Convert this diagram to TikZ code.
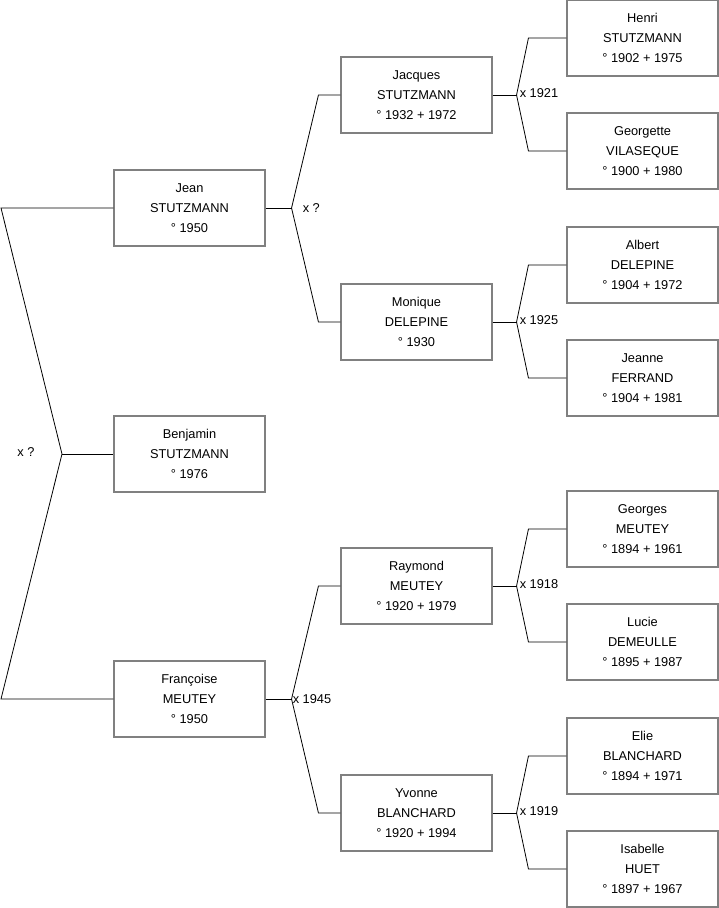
\documentclass[tikz,border=0pt]{standalone}
\usepackage{fontspec}
\setmainfont{Liberation Sans}
\usetikzlibrary{calc}

\begin{document}
\begin{tikzpicture}[
    x=1pt, y=-1pt,
    every node/.style={font=\fontsize{12.8}{20}\selectfont, align=center},
    person/.style={rectangle, draw=black!50, line width=1.1pt, fill=white,
        minimum width=151pt, minimum height=76pt, inner sep=0pt},
    link/.style={draw, line width=0.8pt},
    union/.style={font=\fontsize{12.8}{14}\selectfont, anchor=west, inner sep=1pt}
]
\useasboundingbox (0,0) rectangle (719,908);
% Generazione 1
\node[person] (jean)      at (189.5,208) {Jean\\STUTZMANN\\° 1950};
\node[person] (benjamin)  at (189.5,454) {Benjamin\\STUTZMANN\\° 1976};
\node[person] (francoise) at (189.5,699) {Françoise\\MEUTEY\\° 1950};
% Generazione 2
\node[person] (jacques) at (416.5,95)  {Jacques\\STUTZMANN\\° 1932 + 1972};
\node[person] (monique) at (416.5,322) {Monique\\DELEPINE\\° 1930};
\node[person] (raymond) at (416.5,586) {Raymond\\MEUTEY\\° 1920 + 1979};
\node[person] (yvonne)  at (416.5,813) {Yvonne\\BLANCHARD\\° 1920 + 1994};
% Generazione 3
\node[person] (henri)     at (642.5,38)  {Henri\\STUTZMANN\\° 1902 + 1975};
\node[person] (georgette) at (642.5,151) {Georgette\\VILASEQUE\\° 1900 + 1980};
\node[person] (albert)    at (642.5,265) {Albert\\DELEPINE\\° 1904 + 1972};
\node[person] (jeanne)    at (642.5,378) {Jeanne\\FERRAND\\° 1904 + 1981};
\node[person] (georges)   at (642.5,529) {Georges\\MEUTEY\\° 1894 + 1961};
\node[person] (lucie)     at (642.5,642) {Lucie\\DEMEULLE\\° 1895 + 1987};
\node[person] (elie)      at (642.5,756) {Elie\\BLANCHARD\\° 1894 + 1971};
\node[person] (isabelle)  at (642.5,869) {Isabelle\\HUET\\° 1897 + 1967};

% Unione dei genitori di Benjamin
\coordinate (jeanL) at (1,208);
\coordinate (francoiseL) at (1,699);
\coordinate (benjaminJ) at (62,454);
\draw[link] (jean.west) -- (jeanL) -- (benjaminJ) -- (francoiseL) -- (francoise.west);
\draw[link] (benjaminJ) -- (benjamin.west);
\node[union, anchor=center] (u0) at (26,452) {x ?};

% Genitori di Jean
\coordinate (jeanJ) at ($(jean.east)+(26,0)$);
\draw[link] (jean.east) -- (jeanJ);
\draw[link] (jacques.west) -- ++(-22,0) -- (jeanJ) -- ($(monique.west)+(-22,0)$) -- (monique.west);
\node[union] (u1) at ($(jeanJ)+(10,0)$) {x ?};

% Genitori di Francoise
\coordinate (francoiseJ) at ($(francoise.east)+(26,0)$);
\draw[link] (francoise.east) -- (francoiseJ);
\draw[link] (raymond.west) -- ++(-22,0) -- (francoiseJ) -- ($(yvonne.west)+(-22,0)$) -- (yvonne.west);
\node[union] (u2) at (francoiseJ) {x 1945};

% Genitori di Jacques
\coordinate (jacquesJ) at ($(jacques.east)+(24,0)$);
\draw[link] (jacques.east) -- (jacquesJ);
\draw[link] (henri.west) -- ++(-38,0) -- (jacquesJ) -- ($(georgette.west)+(-38,0)$) -- (georgette.west);
\node[union] (u3) at ($(jacquesJ)+(2,-2)$) {x 1921};

% Genitori di Monique
\coordinate (moniqueJ) at ($(monique.east)+(24,0)$);
\draw[link] (monique.east) -- (moniqueJ);
\draw[link] (albert.west) -- ++(-38,0) -- (moniqueJ) -- ($(jeanne.west)+(-38,0)$) -- (jeanne.west);
\node[union] (u4) at ($(moniqueJ)+(2,-2)$) {x 1925};

% Genitori di Raymond
\coordinate (raymondJ) at ($(raymond.east)+(24,0)$);
\draw[link] (raymond.east) -- (raymondJ);
\draw[link] (georges.west) -- ++(-38,0) -- (raymondJ) -- ($(lucie.west)+(-38,0)$) -- (lucie.west);
\node[union] (u5) at ($(raymondJ)+(2,-2)$) {x 1918};

% Genitori di Yvonne
\coordinate (yvonneJ) at ($(yvonne.east)+(24,0)$);
\draw[link] (yvonne.east) -- (yvonneJ);
\draw[link] (elie.west) -- ++(-38,0) -- (yvonneJ) -- ($(isabelle.west)+(-38,0)$) -- (isabelle.west);
\node[union] (u6) at ($(yvonneJ)+(2,-2)$) {x 1919};
\end{tikzpicture}
\end{document}
